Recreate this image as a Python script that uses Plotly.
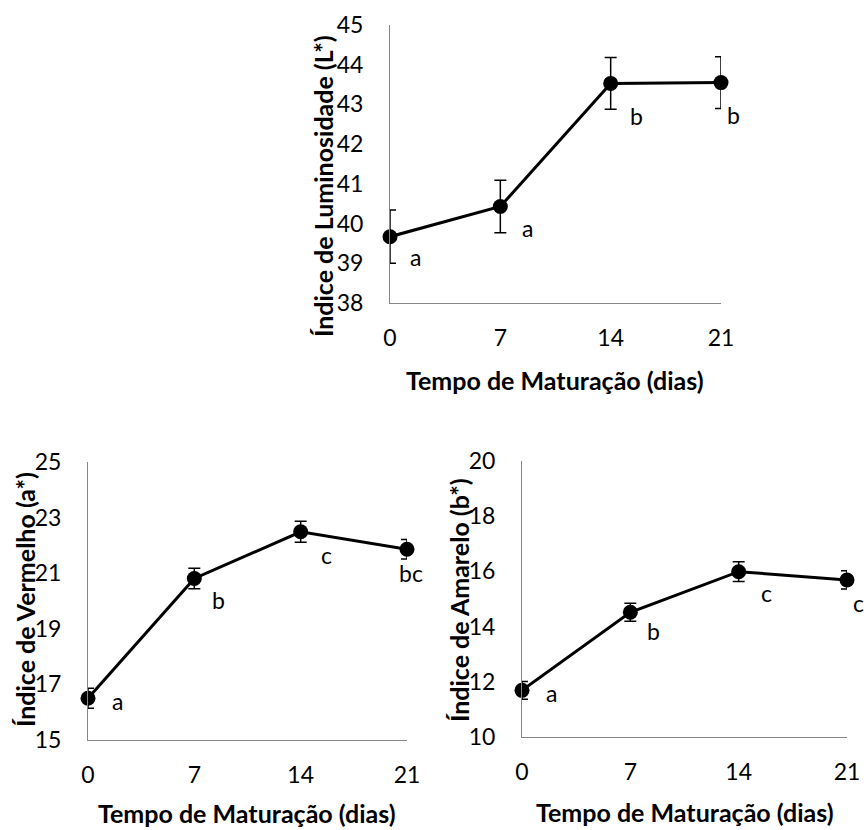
import plotly.graph_objects as go

# figure fills the whole window (body margin removed below)
OFF = 0
W, H = 864 - OFF, 830 - OFF

dias = [0, 7, 14, 21]
tick_labels = ["0", "7", "14", "21"]

lum_vals = [39.67, 40.43, 43.53, 43.55]
lum_err = [0.67, 0.66, 0.65, 0.65]
lum_letters = ["a", "a", "b", "b"]

verm_vals = [16.50, 20.81, 22.49, 21.86]
verm_err = [0.36, 0.37, 0.38, 0.35]
verm_letters = ["a", "b", "c", "bc"]

amar_vals = [11.69, 14.52, 15.99, 15.69]
amar_err = [0.32, 0.33, 0.36, 0.33]
amar_letters = ["a", "b", "c", "c"]

x_title = "Tempo de Maturação (dias)"
y_titles = ["Índice de Luminosidade (L*)", "Índice de Vermelho (a*)", "Índice de Amarelo (b*)"]

FONT = "Lato"
FS = 23
FT = 25


def px(x):
    return (x - OFF) / W


def py(y):
    return 1 - (y - OFF) / H


# panel pixel boxes in window pixels: (x0, x1, ytop, ybottom)
panels = [
    dict(box=(390, 721, 25, 303), yr=(38, 45), dt=1, vals=lum_vals, err=lum_err, let=lum_letters,
         off=[(25, -20), (27, -22), (26, -33), (12, -32)], ytc=(323, 186), xtc=(555, 380)),
    dict(box=(88, 407, 462, 740), yr=(15, 25), dt=2, vals=verm_vals, err=verm_err, let=verm_letters,
         off=[(29, -3), (24, -22), (26, -23), (4, -24)], ytc=(25, 600), xtc=(247, 813)),
    dict(box=(522, 847, 461, 737), yr=(10, 20), dt=2, vals=amar_vals, err=amar_err, let=amar_letters,
         off=[(29, -3), (23, -19), (28, -21), (11, -23)], ytc=(459, 600), xtc=(685, 812)),
]

fig = go.Figure()
annotations = []
for i, p in enumerate(panels):
    n = "" if i == 0 else str(i + 1)
    x0, x1, yt, yb = p["box"]
    fig.add_trace(go.Scatter(
        x=dias, y=p["vals"], mode="lines+markers",
        xaxis="x" + n, yaxis="y" + n,
        line=dict(color="black", width=3),
        marker=dict(color="black", size=15),
        error_y=dict(type="data", array=p["err"], color="black", thickness=1.5, width=6),
        cliponaxis=False, showlegend=False,
    ))
    fig.update_layout(**{
        "xaxis" + n: dict(domain=[px(x0), px(x1)], range=[0, 21], anchor="y" + n, automargin=False,
                          tickvals=dias, ticktext=tick_labels, showgrid=False, zeroline=False,
                          showline=True, linecolor="#868686", linewidth=1,
                          ticks="outside", ticklen=14, tickcolor="rgba(0,0,0,0)",
                          tickfont=dict(family=FONT, size=FS, color="black")),
        "yaxis" + n: dict(domain=[py(yb), py(yt)], range=list(p["yr"]), anchor="x" + n,
                          automargin=False,
                          dtick=p["dt"], tick0=p["yr"][0], showgrid=False, zeroline=False,
                          showline=True, linecolor="#868686", linewidth=1,
                          ticks="outside", ticklen=21, tickcolor="rgba(0,0,0,0)",
                          tickfont=dict(family=FONT, size=FS, color="black")),
    })
    for xv, yv, lt, (dx, dy) in zip(dias, p["vals"], p["let"], p["off"]):
        annotations.append(dict(x=xv, y=yv, xref="x" + n, yref="y" + n, text=lt, showarrow=False,
                                xanchor="center", yanchor="middle",
                                xshift=dx, yshift=dy, font=dict(family=FONT, size=FS, color="black")))
    annotations.append(dict(x=px(p["ytc"][0]), y=py(p["ytc"][1]), xref="paper", yref="paper",
                            text="<b>" + y_titles[i] + "</b>", textangle=-90, showarrow=False,
                            xanchor="center", yanchor="middle",
                            font=dict(family=FONT, size=FT, color="black")))
    annotations.append(dict(x=px(p["xtc"][0]), y=py(p["xtc"][1]), xref="paper", yref="paper",
                            text="<b>" + x_title + "</b>", showarrow=False,
                            xanchor="center", yanchor="middle",
                            font=dict(family=FONT, size=FT, color="black")))

fig.update_layout(width=W, height=H, margin=dict(l=0, r=0, t=0, b=0), template="none",
                  paper_bgcolor="white", plot_bgcolor="white", annotations=annotations)
fig.write_html("out.html", config={"displayModeBar": False},
               post_script="document.body.style.margin='0';document.body.style.overflow='hidden';")
